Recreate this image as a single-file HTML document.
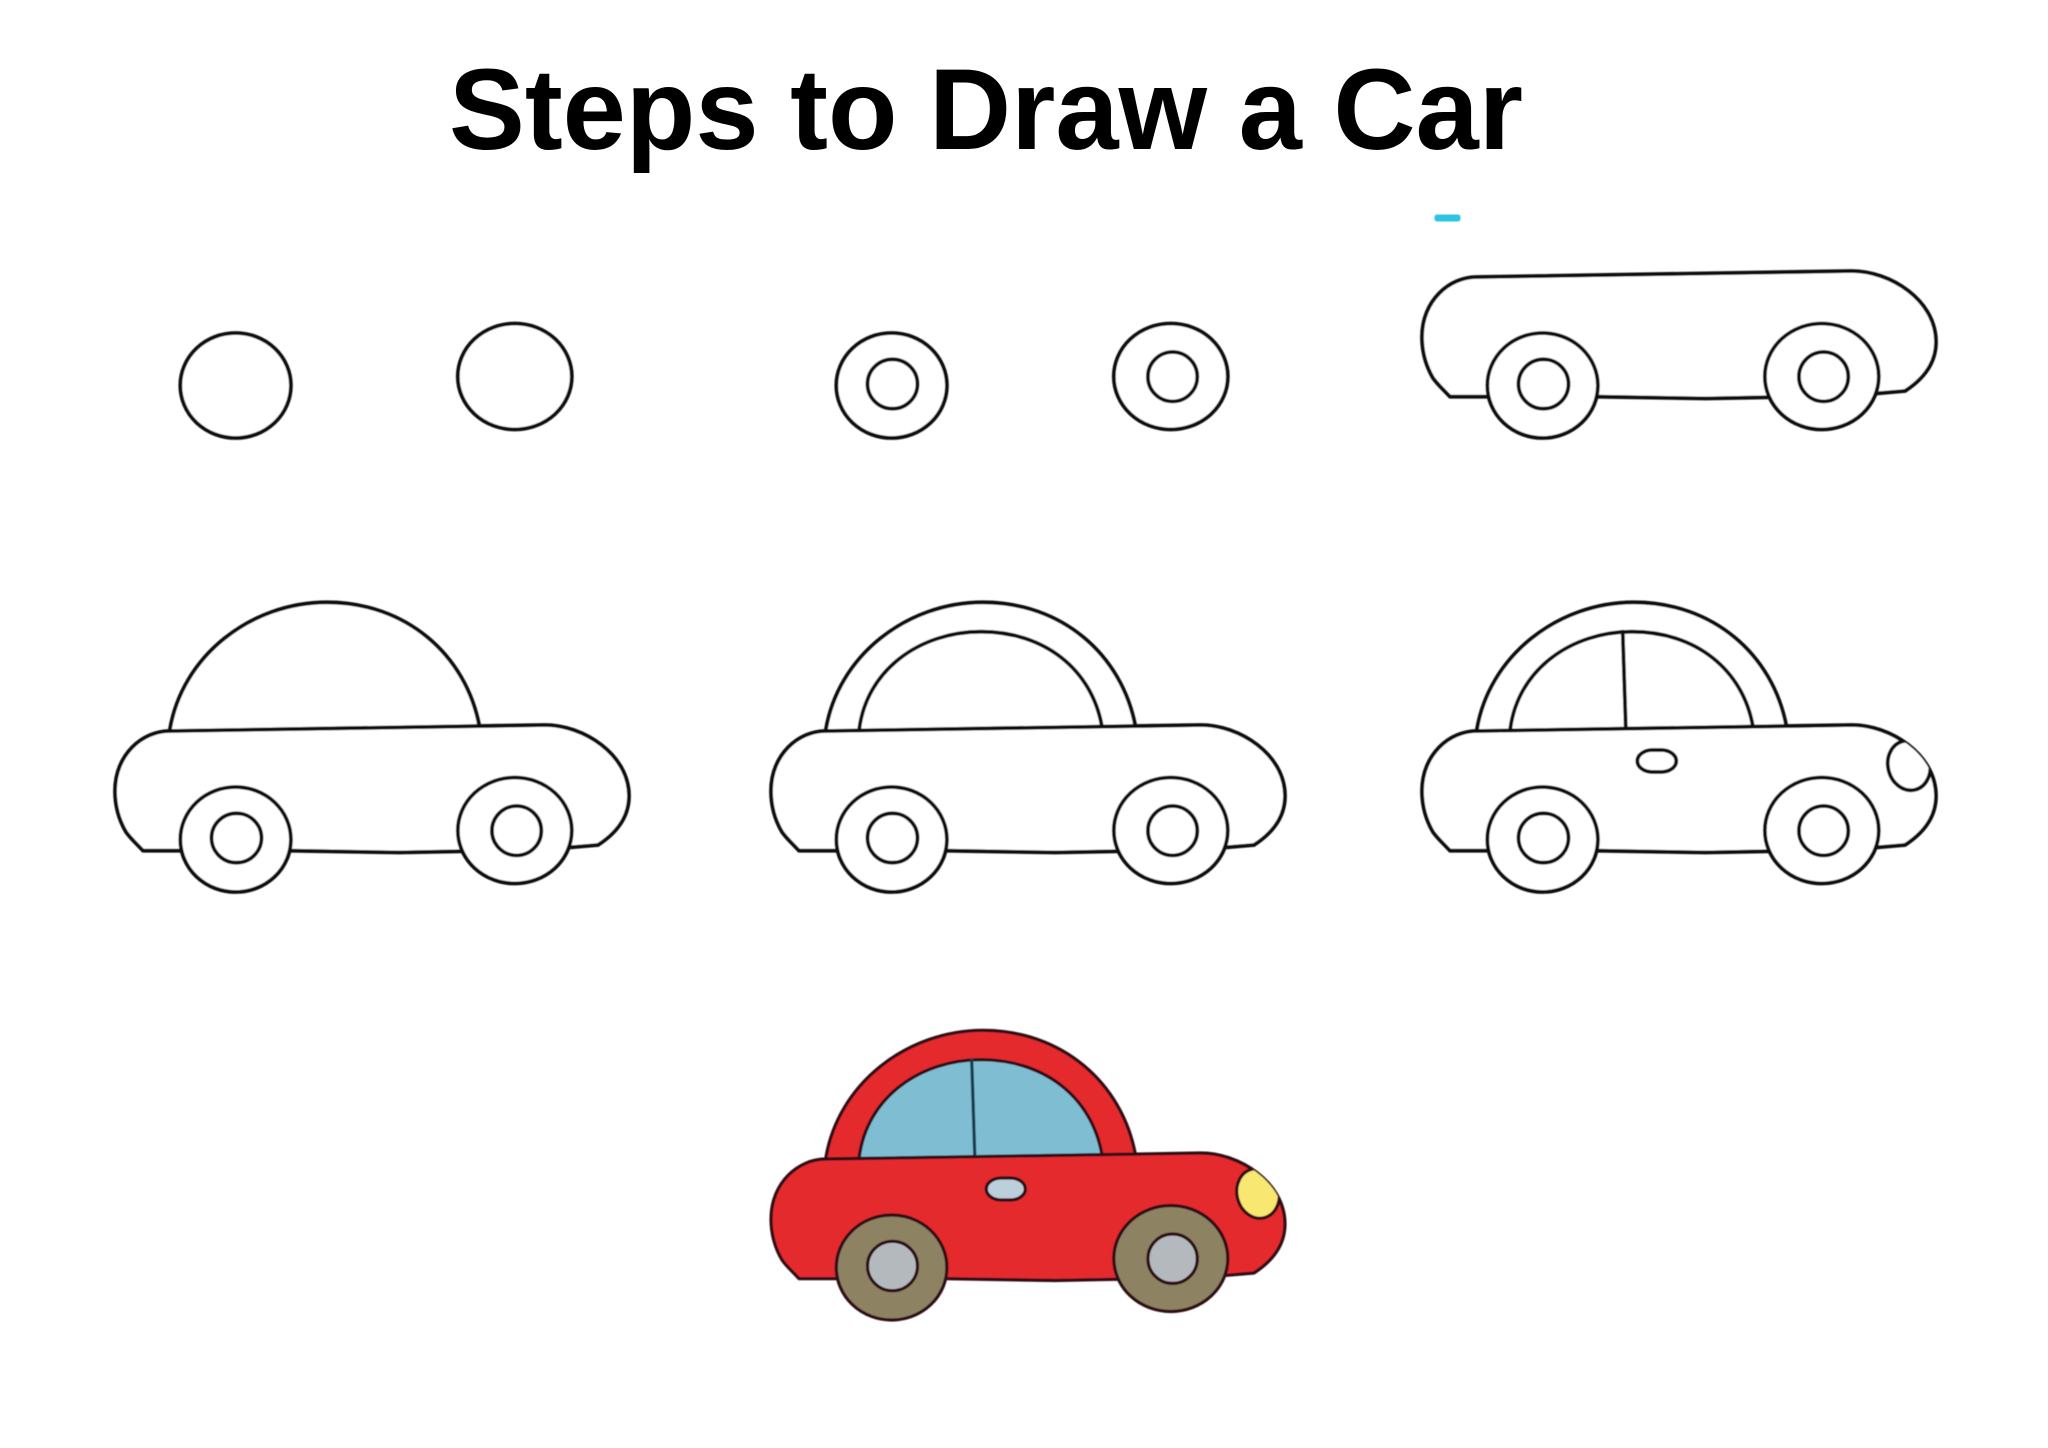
<!DOCTYPE html>
<html>
<head>
<meta charset="utf-8">
<title>Steps to Draw a Car</title>
<style>
html,body{margin:0;padding:0;background:#fff;width:2048px;height:1448px;overflow:hidden}
svg{display:block}
.l{fill:#fff;stroke:#111;stroke-width:3.8;stroke-linejoin:round;stroke-linecap:round}
.n{fill:none;stroke:#111;stroke-width:3.8;stroke-linecap:round}
.c{stroke:#2e1012;stroke-width:3.2;stroke-linejoin:round;stroke-linecap:round}
</style>
</head>
<body>
<svg xmlns="http://www.w3.org/2000/svg" width="2048" height="1448" viewBox="0 0 2048 1448">
<defs>
<filter id="b" x="-5%" y="-5%" width="110%" height="110%"><feGaussianBlur stdDeviation="0.5"/></filter>
<path id="body" d="M1476.5,277 L1852,271 C1890,271 1936,300 1936,342 C1936,362 1925,378 1905,391 L1878,393.3 L1767,397.3 L1706,398.5 L1597,396.7 L1450,396.7 C1442,388 1438,385 1433,378 C1426,366 1422,352 1422,337 C1422,300 1450,277 1476.5,277 Z"/>
<clipPath id="bc"><use href="#body"/></clipPath>
<path id="outer" d="M1476.5,278 C1488,202 1558,148.3 1634,148.3 C1712,148.3 1773,200 1786.5,273 Z"/>
<path id="inner" d="M1510,277 C1517,215 1572,177.7 1632,177.7 C1695,177.7 1743,215 1753,273 Z"/>
<g id="w1">
<ellipse cx="1542.6" cy="385.5" rx="55.3" ry="52.5"/>
<ellipse cx="1821.8" cy="376.5" rx="57" ry="53"/>
</g>
<g id="w2">
<ellipse cx="1543.5" cy="384" rx="25" ry="24.7"/>
<ellipse cx="1823.6" cy="376.7" rx="24.7" ry="24.7"/>
</g>
</defs>

<text x="449" y="149" font-family="'Liberation Sans',sans-serif" font-weight="700" font-size="115" textLength="1074" lengthAdjust="spacingAndGlyphs" fill="#000">Steps to Draw a Car</text>

<g filter="url(#b)">
<rect x="1434.5" y="214.5" width="26" height="7" rx="2.5" fill="#2fc3e3"/>

<!-- Step 1 -->
<g transform="translate(-1307,0)" class="l"><use href="#w1"/></g>

<!-- Step 2 -->
<g transform="translate(-651,0)" class="l"><use href="#w1"/><use href="#w2"/></g>

<!-- Step 3 -->
<g class="l"><use href="#body"/><use href="#w1"/><use href="#w2"/></g>

<!-- Step 4 -->
<g transform="translate(-1307,454)" class="l"><use href="#outer"/><use href="#body"/><use href="#w1"/><use href="#w2"/></g>

<!-- Step 5 -->
<g transform="translate(-651,454)" class="l"><use href="#outer"/><use href="#inner"/><use href="#body"/><use href="#w1"/><use href="#w2"/></g>

<!-- Step 6 -->
<g transform="translate(0,454)" class="l">
<use href="#outer"/><use href="#inner"/>
<line class="n" x1="1622.7" y1="177.7" x2="1625.8" y2="274.3"/>
<use href="#body"/>
<rect x="1637.3" y="296" width="39" height="22" rx="15" ry="11"/>
<g clip-path="url(#bc)"><ellipse cx="1909" cy="311.5" rx="21" ry="25" transform="rotate(-15 1909 311.5)"/></g>
<use href="#w1"/><use href="#w2"/>
</g>

<!-- Step 7 coloured -->
<g transform="translate(-651,882)" class="c">
<use href="#outer" fill="#e5292d"/>
<use href="#inner" fill="#7fbdd3"/>
<line x1="1622.7" y1="177.7" x2="1625.8" y2="274.3" stroke="#123a4a" fill="none"/>
<use href="#body" fill="#e5292d"/>
<rect x="1637.3" y="296" width="39" height="22" rx="15" ry="11" fill="#bcd0dc"/>
<g clip-path="url(#bc)"><ellipse cx="1909" cy="311.5" rx="21" ry="25" transform="rotate(-15 1909 311.5)" fill="#f8e76f"/></g>
<use href="#w1" fill="#8d8262"/>
<use href="#w2" fill="#b4b9bd"/>
</g>
</g>
</svg>
</body>
</html>
